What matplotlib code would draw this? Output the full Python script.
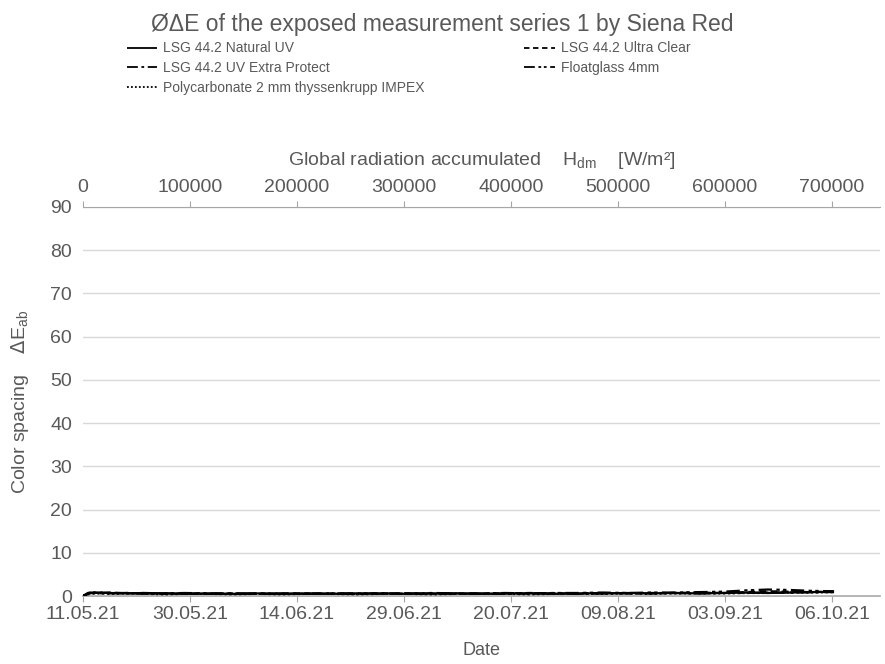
import matplotlib
matplotlib.use("Agg")
import matplotlib.pyplot as plt

plt.rcParams['font.family'] = ['Liberation Sans', 'DejaVu Sans']

# Accumulated global radiation at each measurement [W/m²]
radiation = [0, 6000, 14000, 25000, 41000, 58000, 76000, 95000, 118000, 140000,
             162000, 185000, 210000, 232000, 255000, 280000, 303000, 328000,
             350000, 372000, 395000, 418000, 440000, 462000, 485000, 508000,
             530000, 552000, 575000, 598000, 620000, 640000, 660000, 680000, 702000]

natural_uv = [0.0, 0.7, 0.8, 0.7, 0.6, 0.7, 0.6, 0.5, 0.6, 0.5, 0.6, 0.5, 0.6,
              0.5, 0.6, 0.6, 0.5, 0.6, 0.6, 0.5, 0.6, 0.6, 0.5, 0.6, 0.6, 0.7,
              0.6, 0.7, 0.6, 0.7, 0.8, 0.7, 0.8, 0.9, 1.0]
ultra_clear = [0.0, 0.9, 0.7, 0.8, 0.6, 0.7, 0.5, 0.6, 0.5, 0.6, 0.5, 0.6, 0.5,
               0.6, 0.5, 0.6, 0.6, 0.6, 0.5, 0.6, 0.6, 0.7, 0.6, 0.6, 0.7, 0.6,
               0.7, 0.7, 0.8, 0.7, 0.9, 1.1, 1.0, 0.9, 1.0]
uv_extra_protect = [0.0, 0.6, 0.9, 0.6, 0.7, 0.5, 0.6, 0.6, 0.5, 0.6, 0.5, 0.5,
                    0.6, 0.5, 0.5, 0.6, 0.5, 0.5, 0.6, 0.5, 0.5, 0.6, 0.6, 0.5,
                    0.6, 0.6, 0.6, 0.7, 0.6, 0.7, 0.7, 0.8, 0.8, 0.9, 0.9]
floatglass = [0.0, 0.8, 0.6, 0.7, 0.7, 0.6, 0.6, 0.7, 0.6, 0.5, 0.6, 0.6, 0.5,
              0.6, 0.6, 0.5, 0.6, 0.7, 0.6, 0.6, 0.7, 0.6, 0.7, 0.7, 0.8, 0.7,
              0.8, 0.8, 0.9, 1.0, 1.3, 1.5, 1.4, 1.2, 1.1]
polycarbonate = [0.0, 0.5, 0.6, 0.5, 0.6, 0.5, 0.4, 0.5, 0.5, 0.4, 0.5, 0.4,
                 0.5, 0.5, 0.4, 0.5, 0.5, 0.4, 0.5, 0.5, 0.5, 0.4, 0.5, 0.5,
                 0.5, 0.6, 0.5, 0.6, 0.6, 0.6, 0.7, 0.7, 0.8, 0.8, 0.9]

radiation_ticks = [0, 100000, 200000, 300000, 400000, 500000, 600000, 700000]
date_labels = ["11.05.21", "30.05.21", "14.06.21", "29.06.21",
               "20.07.21", "09.08.21", "03.09.21", "06.10.21"]

series = [
    ("LSG 44.2 Natural UV", natural_uv, (0, ())),
    ("LSG 44.2 UV Extra Protect", uv_extra_protect, (0, (6, 2, 1.5, 2))),
    ("Polycarbonate 2 mm thyssenkrupp IMPEX", polycarbonate, (0, (1, 1.2))),
    ("LSG 44.2 Ultra Clear", ultra_clear, (0, (3, 2))),
    ("Floatglass 4mm", floatglass, (0, (6, 2, 1.5, 1.5, 1.5, 2))),
]

GRAY = "#595959"

fig = plt.figure(figsize=(8.85, 6.64), dpi=100)
ax = fig.add_axes([0.0938, 0.1024, 0.9006, 0.5859])

for name, vals, ls in series:
    ax.plot(radiation, vals, color="black", linewidth=1.6, linestyle=ls,
            label=name, dash_capstyle="butt",
            solid_capstyle="butt")

ax.set_xlim(0, 745000)
ax.set_ylim(0, 90)
ax.set_yticks(range(0, 91, 10))
ax.yaxis.grid(True, color="#d9d9d9", linewidth=1.0)
ax.set_axisbelow(True)

for side in ("left", "right"):
    ax.spines[side].set_visible(False)
ax.spines["top"].set_color("#a6a6a6")
ax.spines["bottom"].set_visible(False)

# Top axis: accumulated radiation
ax.xaxis.tick_top()
ax.xaxis.set_label_position("top")
ax.set_xticks(radiation_ticks)
ax.set_xticklabels([str(v) for v in radiation_ticks])
ax.tick_params(axis="x", which="both", direction="out", length=4,
               color="#a6a6a6", labelsize=14, labelcolor=GRAY, pad=4)
ax.tick_params(axis="y", length=0, labelsize=14, labelcolor=GRAY, pad=8)
ax.set_xlabel(r"Global radiation accumulated    H$_{\mathregular{dm}}$    [W/m²]",
              fontsize=14, color=GRAY, labelpad=10)
ax.set_ylabel(r"Color spacing    $\Delta$E$_{\mathregular{ab}}$",
              fontsize=14, color=GRAY, labelpad=14)

# Bottom axis: measurement dates
sec = ax.secondary_xaxis("bottom")
sec.set_xticks(radiation_ticks)
sec.set_xticklabels(date_labels)
sec.spines["bottom"].set_color("#a6a6a6")
sec.spines["bottom"].set_linewidth(1.2)
sec.tick_params(direction="out", length=4, color="#a6a6a6",
                labelsize=14, labelcolor=GRAY, pad=3)
sec.set_xlabel("Date", fontsize=13, color=GRAY, labelpad=14)

fig.suptitle("ØΔE of the exposed measurement series 1 by Siena Red",
             fontsize=16.5, color=GRAY, y=0.98)

handles, labels = ax.get_legend_handles_labels()
leg = fig.legend(handles, labels, loc="upper left", bbox_to_anchor=(0.137, 0.946),
                 ncol=2, frameon=False, fontsize=10, handlelength=2.2,
                 handletextpad=0.4, columnspacing=7.2, labelspacing=0.4,
                 borderaxespad=0)
for t in leg.get_texts():
    t.set_color(GRAY)
for h in leg.get_lines():
    h.set_linewidth(1.3)

fig.savefig("out.png", dpi=100)
